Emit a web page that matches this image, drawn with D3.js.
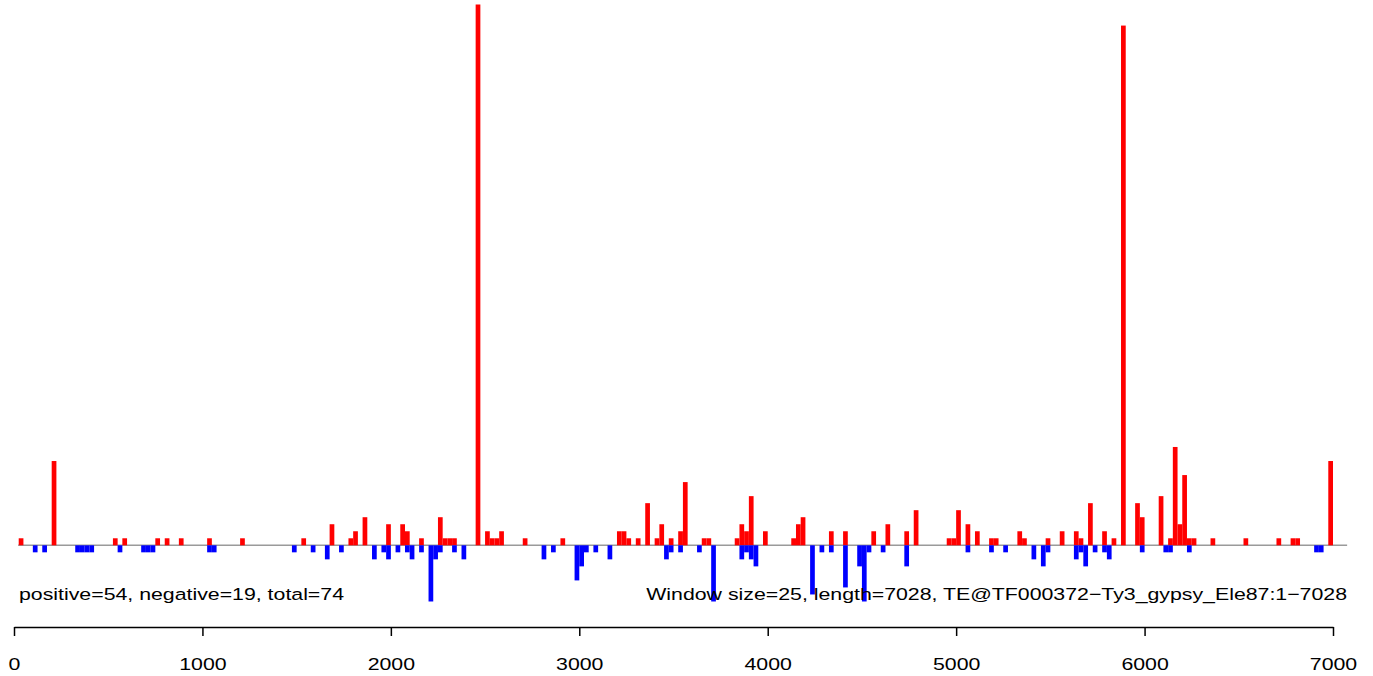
<!DOCTYPE html>
<html>
<head>
<meta charset="utf-8">
<script src="https://cdn.jsdelivr.net/npm/d3@7"></script>
<style>
  html, body { margin: 0; padding: 0; background: #ffffff; }
  svg { display: block; }
  text { font-family: "Liberation Sans", Arial, Helvetica, sans-serif; fill: #000; }
</style>
</head>
<body>
<svg id="chart" width="1373" height="676"></svg>
<script>
// ---- data ----
const windowSize = 25;
const posStart = [25,200,525,575,750,800,875,1025,1200,1525,1675,1775,1800,1850,1975,2050,2075,2150,2250,2275,2300,2325,2450,2500,2525,2550,2575,2700,2900,3200,3225,3250,3300,3350,3400,3425,3475,3525,3550,3650,3675,3825,3850,3875,3900,3975,4125,4150,4175,4325,4400,4550,4625,4725,4775,4950,4975,5000,5050,5100,5175,5200,5325,5350,5475,5550,5625,5650,5700,5775,5825,5875,5950,5975,6075,6125,6150,6175,6200,6225,6250,6350,6525,6700,6775,6800,6975];
const posCount = [1,12,1,1,1,1,1,1,1,1,3,1,2,4,3,3,2,1,4,1,1,1,77,2,1,1,2,1,1,2,2,1,1,6,1,3,1,2,9,1,1,1,3,2,7,2,1,3,4,2,2,2,3,2,5,1,1,5,3,2,1,1,2,1,1,2,2,1,6,2,1,74,6,4,7,1,14,3,10,1,1,1,1,1,1,1,12];
const negStart = [100,150,325,350,375,400,550,675,700,725,1025,1050,1475,1575,1650,1725,1900,1950,1975,2025,2075,2100,2150,2200,2225,2250,2325,2375,2800,2850,2975,3000,3025,3075,3150,3450,3475,3525,3625,3700,3850,3875,3900,3925,4225,4275,4325,4400,4475,4500,4525,4600,4725,5050,5175,5250,5400,5450,5475,5625,5650,5675,5725,5775,5800,5975,6100,6125,6225,6900,6925];
const negCount = [1,1,1,1,1,1,1,1,1,1,1,1,1,1,2,1,2,1,2,1,1,2,1,8,2,1,1,2,2,1,5,3,1,1,2,2,1,1,1,8,2,1,2,3,7,1,1,6,3,8,1,1,3,1,1,1,2,3,1,2,1,3,1,1,2,1,1,1,1,1,1];
const xTicks = [0,1000,2000,3000,4000,5000,6000,7000];
const infoLeft = "positive=54, negative=19, total=74";
const infoRight = "Window size=25, length=7028, TE@TF000372\u2212Ty3_gypsy_Ele87:1\u22127028";

// ---- layout ----
const svg = d3.select("#chart");
const x = d3.scaleLinear().domain([0, 7000]).range([14, 1333]);
const y = d3.scaleLinear().domain([0, 77]).range([545.3, 4.5]);
const fontSize = 17.4, stretch = 1.225;

// baseline
svg.append("line")
  .attr("x1", x(22)).attr("x2", x(7075))
  .attr("y1", y(0)).attr("y2", y(0))
  .attr("stroke", "#9a9a9a").attr("stroke-width", 1.5);

const pos = posStart.map((s, i) => ({s, v: posCount[i]}));
const neg = negStart.map((s, i) => ({s, v: negCount[i]}));

svg.append("g").selectAll("rect").data(pos).join("rect")
  .attr("x", d => x(d.s))
  .attr("width", d => x(d.s + windowSize) - x(d.s))
  .attr("y", d => y(d.v))
  .attr("height", d => y(0) - y(d.v))
  .attr("fill", "#ff0000");

svg.append("g").selectAll("rect").data(neg).join("rect")
  .attr("x", d => x(d.s))
  .attr("width", d => x(d.s + windowSize) - x(d.s))
  .attr("y", y(0))
  .attr("height", d => y(-d.v) - y(0))
  .attr("fill", "#0000ff");

// info texts
svg.append("text")
  .attr("transform", `translate(19,599.5) scale(${stretch},1)`)
  .attr("font-size", fontSize)
  .text(infoLeft);
svg.append("text")
  .attr("transform", `translate(1347,599.5) scale(${stretch},1)`)
  .attr("text-anchor", "end")
  .attr("font-size", fontSize)
  .text(infoRight);

// axis
const axis = d3.axisBottom(x).tickValues(xTicks).tickSize(9).tickSizeOuter(0).tickPadding(0)
  .tickFormat(d3.format("d"));
const ag = svg.append("g").attr("transform", "translate(0,627)").call(axis);
ag.select(".domain").attr("stroke", "#000").attr("stroke-width", 1.5);
ag.selectAll(".tick line").attr("stroke", "#000").attr("stroke-width", 1.5);
ag.selectAll(".tick text")
  .attr("y", 0).attr("dy", null)
  .attr("transform", `translate(0,43) scale(${stretch},1)`)
  .attr("font-size", fontSize)
  .attr("font-family", "'Liberation Sans', Arial, sans-serif")
  .attr("fill", "#000");
</script>
</body>
</html>
